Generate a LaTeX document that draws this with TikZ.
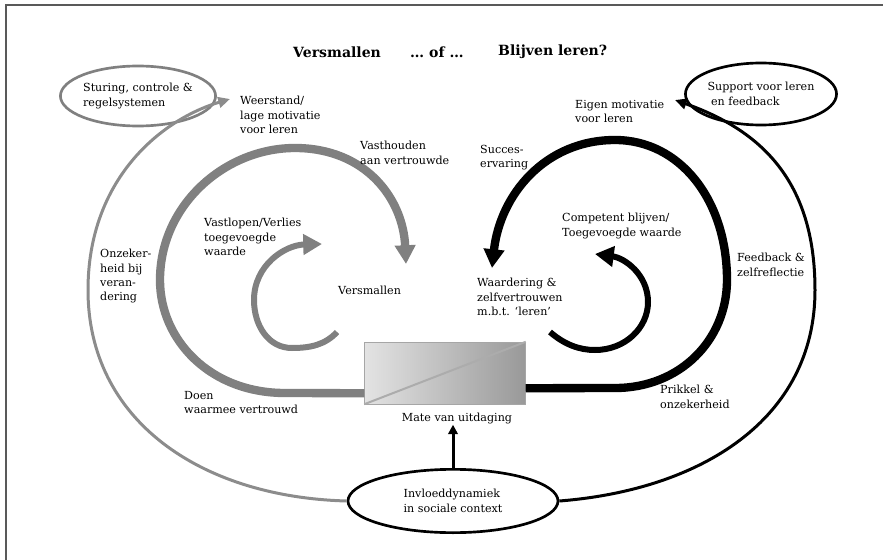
\documentclass[tikz,border=0pt]{standalone}
\usepackage{fontspec}
\setmainfont{DejaVu Serif}
\usetikzlibrary{positioning,arrows.meta,shapes.geometric,calc}

\begin{document}
\begin{tikzpicture}[
  x=0.03cm, y=-0.03cm,
  font=\fontsize{9.5}{12.3}\selectfont,
  lbl/.style={anchor=north west, align=left, inner sep=0pt},
  ttl/.style={anchor=west, inner sep=0pt, font=\bfseries\fontsize{12}{14}\selectfont},
  bubble/.style={draw, ellipse, line width=0.08cm, align=left, inner sep=0pt},
  loopbig/.style={line width=0.25cm, -{Triangle[length=16pt,width=17pt]}},
  loopsmall/.style={line width=0.18cm, -{Triangle[length=16pt,width=17pt]}},
  sweep/.style={line width=0.09cm, -{Triangle[length=10pt,width=9pt]}},
]
\useasboundingbox (0,0) rectangle (883,560);
\draw[black!65, line width=0.06cm] (6,560) -- (6,5) -- (883,5);

% title
\node[ttl] (t1) at (293,52) {Versmallen};
\node[ttl] (t2) at (410,52) {… of …};
\node[ttl] (t3) at (498,52) {Blijven leren?};

% ellipses
\node[bubble, draw=gray, minimum width=4.02cm, minimum height=1.8cm] (sturing) at (138,96)
  {Sturing, controle \&\\regelsystemen};
\node[bubble, minimum width=4.1cm, minimum height=1.86cm] (support) at (761,94)
  {Support voor leren\\\ en feedback};
\node[bubble, minimum width=6.3cm, minimum height=1.9cm] (invloed) at (453,501)
  {Invloeddynamiek\\in sociale context};

% challenge box
\node[draw=gray!70, left color=gray!22, right color=gray!80, minimum width=4.83cm,
      minimum height=1.86cm, inner sep=0pt] (uitdaging) at (445,373) {};
\draw[gray!65, line width=0.06cm] (uitdaging.south west) -- (uitdaging.north east);
\node[inner sep=0pt] (mate) at (457,419) {Mate van uitdaging};

% left side (grey)
\draw[sweep, gray!90] (invloed.west) .. controls (200,497) and (88,420) .. (88,290)
  .. controls (88,180) and (160,120) .. (230,99);
\draw[loopbig, gray] ($(uitdaging.south west)+(0,-11)$) -- (285,393)
  .. controls (210,393) and (160,340) .. (160,280)
  .. controls (160,205) and (225,148) .. (295,148)
  .. controls (365,148) and (403,198) .. (406,264);
\draw[loopsmall, gray] (337,332) .. controls (325,345) and (310,348) .. (292,348)
  .. controls (268,348) and (254,325) .. (254,300)
  .. controls (254,265) and (285,245) .. (322,244);

% right side (black)
\draw[sweep] (invloed.east) .. controls (700,490) and (815,420) .. (815,290)
  .. controls (815,180) and (760,130) .. (675,100);
\draw[loopbig] ($(uitdaging.south east)+(0,-16)$) -- (615,388)
  .. controls (680,388) and (727,340) .. (727,280)
  .. controls (727,200) and (680,140) .. (615,140)
  .. controls (545,140) and (500,195) .. (492,268);
\draw[loopsmall] (550,332) .. controls (565,345) and (580,350) .. (595,350)
  .. controls (625,350) and (648,328) .. (648,302)
  .. controls (648,275) and (625,258) .. (595,254);
\draw[line width=0.09cm, -{Triangle[length=8pt,width=8pt]}] (invloed.north) -- (invloed.north |- mate.south);

% labels
\node[lbl] (weerstand) at (240,96)  {Weerstand/\\lage motivatie\\voor leren};
\node[lbl] (vasthouden) at (360,141) {Vasthouden\\aan vertrouwde};
\node[lbl] (vastlopen) at (204,218) {Vastlopen/Verlies\\toegevoegde\\waarde};
\node[lbl] (onzeker) at (100,249)  {Onzeker-\\heid bij\\veran-\\dering};
\node[lbl] (versmallen) at (338,286) {Versmallen};
\node[lbl] (doen) at (184,391) {Doen\\waarmee vertrouwd};
\node[lbl] (eigen) at (575,100) {Eigen motivatie\\voor leren};
\node[lbl] (succes) at (480,145) {Succes-\\ervaring};
\node[lbl] (competent) at (562,213) {Competent blijven/\\Toegevoegde waarde};
\node[lbl] (feedback) at (737,253) {Feedback \&\\zelfreflectie};
\node[lbl] (waardering) at (477,278) {Waardering \&\\zelfvertrouwen\\m.b.t. ‘leren’};
\node[lbl] (prikkel) at (660,385) {Prikkel \&\\onzekerheid};
\end{tikzpicture}
\end{document}
